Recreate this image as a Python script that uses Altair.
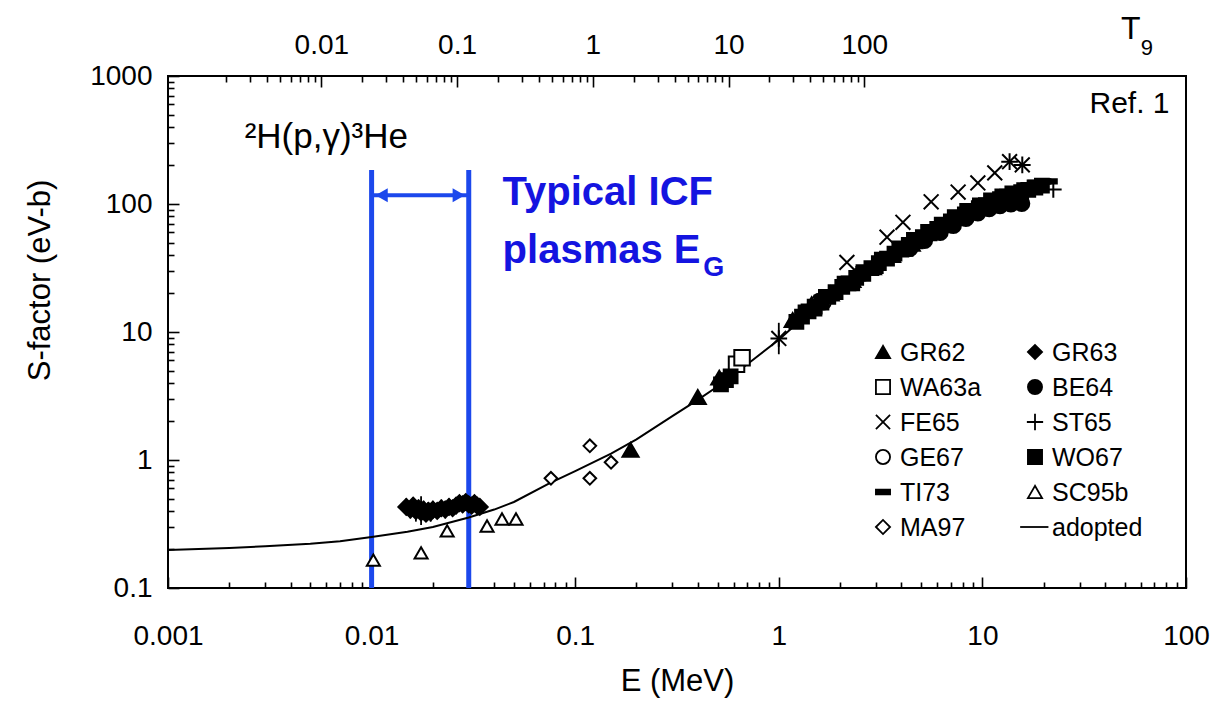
import altair as alt
import pandas as pd

FONT = "Liberation Sans"
BLUE_LINE = "#1c48ec"
BLUE_TEXT = "#1414e0"

# ---------------- data ----------------
curve_E = [0.001, 0.002, 0.003, 0.005, 0.007, 0.01, 0.015, 0.02, 0.03, 0.04, 0.05, 0.075,
           0.1, 0.15, 0.2, 0.3, 0.4, 0.5, 0.7, 1.0, 1.5, 2.0, 3.0, 4.0, 5.0, 7.0, 10.0,
           15.0, 20.0, 22.0]
curve_S = [0.198, 0.205, 0.212, 0.222, 0.232, 0.25, 0.275, 0.30, 0.355, 0.41, 0.47, 0.66,
           0.82, 1.12, 1.45, 2.2, 2.95, 3.75, 5.6, 8.7, 15.5, 21.5, 33, 45, 56, 75, 97,
           125, 142, 146]

GR62_E = [0.187, 0.40, 0.51, 1.17, 1.45, 1.8, 2.3, 2.9, 3.6, 4.5]
GR62_S = [1.2, 3.1, 4.4, 12.4, 16.5, 20, 25.5, 32, 40, 49]

GR63_E = [0.0148, 0.0155, 0.016, 0.0165, 0.017, 0.0175, 0.018, 0.0185, 0.019, 0.0195,
          0.020, 0.021, 0.022, 0.023, 0.024, 0.025, 0.026, 0.027, 0.028, 0.029, 0.030,
          0.031, 0.032, 0.033, 0.034]
GR63_S = [0.43, 0.41, 0.44, 0.40, 0.42, 0.39, 0.41, 0.38, 0.40, 0.39, 0.41, 0.40, 0.42,
          0.41, 0.43, 0.42, 0.44, 0.46, 0.45, 0.47, 0.45, 0.44, 0.46, 0.44, 0.43]
GR63_lo = [0.37, 0.35, 0.38, 0.33, 0.36, 0.31, 0.35, 0.33, 0.34, 0.33, 0.35, 0.35, 0.36,
           0.35, 0.37, 0.37, 0.38, 0.40, 0.39, 0.41, 0.39, 0.39, 0.40, 0.39, 0.38]
GR63_hi = [0.50, 0.48, 0.51, 0.47, 0.49, 0.52, 0.48, 0.44, 0.47, 0.46, 0.48, 0.46, 0.49,
           0.48, 0.50, 0.48, 0.51, 0.53, 0.52, 0.54, 0.52, 0.50, 0.53, 0.50, 0.49]

WA63a_E = [0.62, 0.66]
WA63a_S = [5.6, 6.3]

BE64_E = [4.4, 5.2, 6.2, 7.2, 8.3, 9.5, 10.8, 12.2, 13.8, 15.6]
BE64_S = [45, 52, 60, 68, 77, 85, 92, 97, 100, 101]

FE65_E = [1.0, 2.16, 3.4, 4.07, 5.6, 7.6, 9.5, 11.5, 13.6, 15.7]
FE65_S = [8.9, 35, 55, 72, 104, 124, 146, 175, 214, 202]
FE65_err_E = [1.0]
FE65_err_lo = [6.7]
FE65_err_hi = [11.8]

ST65_E = [1.0, 13.6, 15.7, 22.3]
ST65_S = [8.9, 214, 202, 130]

GE67_E = [1.58, 1.66, 2.45, 2.6]
GE67_S = [17.5, 17.0, 27.5, 28.5]

WO67_E = [0.52, 0.55, 0.58, 1.22, 1.3, 1.4, 1.5, 1.62, 1.75, 1.9, 2.05, 2.2, 2.4, 2.6,
          2.85, 3.1, 3.4, 3.7, 4.0, 4.35, 4.7, 5.1, 5.5, 6.0, 6.5, 7.0, 7.6, 8.2, 8.9,
          9.6, 10.4, 11.3, 12.2, 13.2, 14.3, 15.5, 16.8, 18.2, 19.6]
WO67_S = [3.9, 4.2, 4.5, 12.0, 13.2, 14.5, 15.8, 17.0, 18.8, 20.5, 22.5, 24.0, 26.5, 28.5,
          31.5, 34.5, 37.5, 41, 44, 48, 51, 55, 59, 64, 68, 73, 78, 83, 88, 93, 98, 104,
          109, 114, 119, 124, 129, 134, 139]

TI73_E = [1.35, 1.7, 2.1, 2.6, 3.2, 3.9, 4.6, 5.4, 6.3, 7.3, 8.4, 9.7, 11.0, 12.5, 14.0,
          16.0, 18.0, 20.0, 21.5, 1.5, 2.3, 3.0, 4.2, 6.0, 9.0]
TI73_S = [15.5, 20.5, 26, 32, 40, 49, 57, 66, 75, 86, 96, 106, 116, 125, 132, 140, 147,
          150, 150, 14, 22, 30, 41, 58, 80]

SC95b_E = [0.0102, 0.0175, 0.0235, 0.0369, 0.0437, 0.0512]
SC95b_S = [0.165, 0.188, 0.279, 0.305, 0.346, 0.346]

MA97_E = [0.076, 0.118, 0.118, 0.150]
MA97_S = [0.72, 1.29, 0.72, 0.96]

series_order = ["GR62", "GR63", "WA63a", "BE64", "FE65", "ST65", "GE67", "WO67",
                "TI73", "SC95b", "MA97", "adopted"]
# legend grid: two columns, six rows (row-major order of series_order)
legend_col = [0, 1] * 6
legend_row = [0, 0, 1, 1, 2, 2, 3, 3, 4, 4, 5, 5]

# Gamow window marks (E in MeV) and annotation anchors
window_E = [0.01, 0.03]
window_top_S = [184, 184]
arrow_S = 117
head_E = [0.0112, 0.0268]

E_major = [0.001, 0.01, 0.1, 1, 10, 100]
E_minor = [m * d for d in [0.001, 0.01, 0.1, 1, 10] for m in range(2, 10)]
S_major = [0.1, 1, 10, 100, 1000]
S_minor = [m * d for d in [0.1, 1, 10, 100] for m in range(2, 10)]
T9_major = [0.01, 0.1, 1, 10, 100]
T9_minor = [m * d for d in [0.001, 0.01, 0.1, 1, 10] for m in range(2, 10)]
E_at_T9_1 = 0.122  # Gamow energy (MeV) at T9 = 1, E_G ~ T9^(2/3)

# ---------------- tables ----------------
series_data = {
    "GR62": (GR62_E, GR62_S), "GR63": (GR63_E, GR63_S), "WA63a": (WA63a_E, WA63a_S),
    "BE64": (BE64_E, BE64_S), "GE67": (GE67_E, GE67_S), "MA97": (MA97_E, MA97_S),
    "SC95b": (SC95b_E, SC95b_S), "WO67": (WO67_E, WO67_S), "TI73": (TI73_E, TI73_S),
    "FE65": (FE65_E, FE65_S), "ST65": (ST65_E, ST65_S),
}
rows = []
for name, (es, ss) in series_data.items():
    for e, s in zip(es, ss):
        rows.append({"E": e, "S": s, "series": name})
df_pts = pd.DataFrame(rows)
df_curve = pd.DataFrame({"E": curve_E, "S": curve_S})
df_err = pd.DataFrame({"E": GR63_E + FE65_err_E, "lo": GR63_lo + FE65_err_lo,
                       "hi": GR63_hi + FE65_err_hi})
df_leg = pd.DataFrame({"series": series_order, "col": legend_col, "row": legend_row})

X_PATH = "M-1,-1L1,1M-1,1L1,-1"
PLUS_PATH = "M-1.15,0L1.15,0M0,-1.15L0,1.15"
DASH_PATH = "M-1,-0.32L1,-0.32L1,0.32L-1,0.32Z"
LINE_PATH = "M-2.1,0L1.9,0"
shape_range = ["triangle-up", "diamond", "square", "circle", X_PATH, PLUS_PATH, "circle",
               "square", DASH_PATH, "triangle-up", "diamond", LINE_PATH]
fill_range = ["black", "black", "white", "black", "white", "white", "white", "black",
              "black", "white", "white", "white"]
size_range = [260, 150, 200, 260, 170, 190, 190, 190, 210, 230, 240, 100]

W, H = 1018, 512
xs = alt.Scale(type="log", domain=[0.001, 100], nice=False)
ys = alt.Scale(type="log", domain=[0.1, 1000], nice=False)
t9s = alt.Scale(type="log", domain=[(0.001 / E_at_T9_1) ** 1.5, (100 / E_at_T9_1) ** 1.5],
                nice=False)
shape_scale = alt.Scale(domain=series_order, range=shape_range)
fill_scale = alt.Scale(domain=series_order, range=fill_range)


def X(axis=None, field="E"):
    return alt.X(f"{field}:Q", scale=xs, axis=axis)


def Y(axis=None, field="S"):
    return alt.Y(f"{field}:Q", scale=ys, axis=axis)


bottom_lab = alt.Axis(orient="bottom", values=E_major, format="~g", ticks=False,
                      domain=False, grid=False, labelFontSize=28, labelFont=FONT,
                      labelColor="black", labelPadding=34, labelFlush=False,
                      title="E (MeV)", titleFont=FONT, titleFontSize=31,
                      titleFontWeight="normal", titleColor="black", titlePadding=16)
left_lab = alt.Axis(orient="left", values=S_major, format="~g", ticks=False, domain=False,
                    grid=False, labelFontSize=28, labelFont=FONT, labelColor="black",
                    labelPadding=16, labelFlush=False, title="S-factor (eV-b)",
                    titleFont=FONT, titleFontSize=31, titleFontWeight="normal",
                    titleColor="black", titleX=-128, titleY=204, titleAlign="center",
                    titleBaseline="middle", titleAngle=270)

pts = alt.Chart(df_pts).mark_point(opacity=1, fillOpacity=1, strokeWidth=2,
                                     stroke="black").encode(
    x=X(bottom_lab), y=Y(left_lab),
    shape=alt.Shape("series:N", scale=shape_scale, legend=None),
    fill=alt.Fill("series:N", scale=fill_scale, legend=None),
    size=alt.Size("series:N", scale=alt.Scale(domain=series_order, range=size_range),
                  legend=None),
)

# legend drawn as its own small layer (2 columns x 6 rows)
leg_x = alt.X("col:Q", scale=alt.Scale(domain=[0, 1], range=[715, 867]), axis=None)
leg_y = alt.Y("row:Q", scale=alt.Scale(domain=[0, 5], range=[276, 451]), axis=None)
leg_sym = alt.Chart(df_leg).mark_point(opacity=1, fillOpacity=1, strokeWidth=1.8,
                                         stroke="black", size=200).encode(
    x=leg_x, y=leg_y,
    shape=alt.Shape("series:N", scale=shape_scale, legend=None),
    fill=alt.Fill("series:N", scale=fill_scale, legend=None),
)
leg_txt = alt.Chart(df_leg).mark_text(font=FONT, fontSize=25, color="black", align="left",
                                        baseline="middle", dx=17, dy=1).encode(
    x=leg_x, y=leg_y, text="series:N")


def tick_axis(values, size, orient):
    # ticks pointing into the plot: shift the axis inwards, draw ticks outwards
    return alt.Axis(orient=orient, values=values, labels=False, domain=False, grid=False,
                    offset=-size, tickSize=size, tickWidth=1.6, tickColor="black",
                    title=None)


dummy = pd.DataFrame({"E": [1.0], "S": [1.0], "T9": [1.0]})
ticks_major = alt.Chart(dummy).mark_point(opacity=0).encode(
    x=X(tick_axis(E_major, 11, "bottom")), y=Y(tick_axis(S_major, 11, "left")))
ticks_minor = alt.Chart(dummy).mark_point(opacity=0).encode(
    x=X(tick_axis(E_minor, 6, "bottom")), y=Y(tick_axis(S_minor, 6, "left")))

t9_lab = alt.Chart(dummy).mark_point(opacity=0).encode(
    x=alt.X("T9:Q", scale=t9s, axis=alt.Axis(
        orient="top", values=T9_major, format="~g", ticks=False, domain=False, grid=False,
        labelFontSize=28, labelFont=FONT, labelColor="black", labelPadding=17,
        labelFlush=False, title=None)))
t9_major = alt.Chart(dummy).mark_point(opacity=0).encode(
    x=alt.X("T9:Q", scale=t9s, axis=tick_axis(T9_major, 11, "top")))
t9_minor = alt.Chart(dummy).mark_point(opacity=0).encode(
    x=alt.X("T9:Q", scale=t9s, axis=tick_axis(T9_minor, 6, "top")))

curve = alt.Chart(df_curve).mark_line(color="black", strokeWidth=2).encode(
    x=X(), y=Y(), order="E:Q")

errs = alt.Chart(df_err).mark_rule(color="black", strokeWidth=1.8).encode(
    x=X(), y=Y(field="lo"), y2="hi:Q")

df_win = pd.DataFrame({"E": window_E, "top": window_top_S, "bot": [0.1, 0.1]})
win = alt.Chart(df_win).mark_rule(color=BLUE_LINE, strokeWidth=5).encode(
    x=X(), y=Y(field="bot"), y2="top:Q")

df_arrow = pd.DataFrame({"E": [window_E[0]], "E2": [window_E[1]], "S": [arrow_S]})
arrow = alt.Chart(df_arrow).mark_rule(color=BLUE_LINE, strokeWidth=4).encode(
    x=X(), x2="E2:Q", y=Y())
head_l = alt.Chart(pd.DataFrame({"E": [head_E[0]], "S": [arrow_S]})).mark_point(
    filled=True, opacity=1, color=BLUE_LINE, size=200, shape="triangle-left").encode(
    x=X(), y=Y())
head_r = alt.Chart(pd.DataFrame({"E": [head_E[1]], "S": [arrow_S]})).mark_point(
    filled=True, opacity=1, color=BLUE_LINE, size=200, shape="triangle-right").encode(
    x=X(), y=Y())


def text_layer(E, S, txt, size, color="black", weight="normal", align="left"):
    d = pd.DataFrame({"E": [E], "S": [S], "t": [txt]})
    return alt.Chart(d).mark_text(font=FONT, fontSize=size, color=color, fontWeight=weight,
                                  align=align, baseline="alphabetic").encode(
        x=X(), y=Y(), text="t:N")


texts = [
    text_layer(0.00238, 272, "²H(p,γ)³He", 35),
    text_layer(83, 514, "Ref. 1", 30, align="right"),
    text_layer(0.044, 98, "Typical ICF", 40, BLUE_TEXT, "bold"),
    text_layer(0.044, 34.6, "plasmas E", 40, BLUE_TEXT, "bold"),
    text_layer(0.425, 27.5, "G", 27, BLUE_TEXT, "bold"),
    text_layer(48, 1950, "T", 32),
    text_layer(60, 1450, "9", 22),
]

chart = alt.layer(
    ticks_major, ticks_minor, t9_lab, t9_major, t9_minor,
    win, arrow, head_l, head_r, curve, errs, pts, leg_sym, leg_txt, *texts
).resolve_scale(x="independent", y="independent").properties(
    width=W, height=H,
    autosize=alt.AutoSizeParams(type="none"),
    padding={"left": 168, "top": 76, "right": 33, "bottom": 118},
    background="white",
).configure_view(stroke="black", strokeWidth=2)

chart.save("out.html", embed_options={"renderer": "svg", "actions": False})
